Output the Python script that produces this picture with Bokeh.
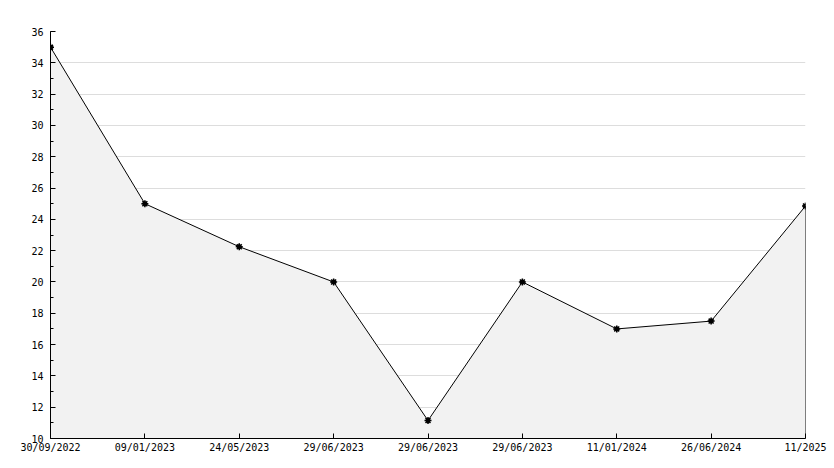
from bokeh.plotting import figure
from bokeh.models import Range1d, FixedTicker, SingleIntervalTicker
from bokeh.embed import file_html
from bokeh.resources import INLINE

dates = ["30/09/2022", "09/01/2023", "24/05/2023", "29/06/2023", "29/06/2023",
         "29/06/2023", "11/01/2024", "26/06/2024", "11/2025"]
values = [35.0, 25.0, 22.25, 20.0, 11.15, 20.0, 17.0, 17.5, 24.85]
y_min, y_max = 10, 36

xs = list(range(len(dates)))

p = figure(width=830, height=460, output_backend="svg", toolbar_location=None,
           x_range=Range1d(0, len(dates) - 1), y_range=Range1d(y_min, y_max),
           min_border_left=50, min_border_right=25, min_border_top=31, min_border_bottom=22)
p.outline_line_color = None
p.background_fill_color = "white"
p.border_fill_color = "white"

# area under the line, outlined in black
p.patch(xs + [xs[-1], xs[0]], values + [y_min, y_min],
        fill_color="#f2f2f2", line_color="black", line_width=1)
p.scatter(xs, values, marker="circle", size=4, color="black")
p.scatter(xs, values, marker="asterisk", size=7, line_color="black", line_width=1.5)

font = "DejaVu Sans Mono"
p.xgrid.grid_line_color = None
p.ygrid.grid_line_color = "#dddddd"
p.ygrid.grid_line_width = 1

p.xaxis.ticker = FixedTicker(ticks=xs)
p.xaxis.major_label_overrides = {i: d for i, d in enumerate(dates)}
p.xaxis.major_tick_in = 5
p.xaxis.major_tick_out = 0
p.xaxis.minor_tick_line_color = None
p.xaxis.major_label_standoff = 3

p.yaxis.ticker = SingleIntervalTicker(interval=2, num_minor_ticks=2)
p.yaxis.major_tick_in = 5
p.yaxis.major_tick_out = 0
p.yaxis.minor_tick_in = 3
p.yaxis.minor_tick_out = 0
p.yaxis.major_label_standoff = 7

for ax in (p.xaxis, p.yaxis):
    ax.axis_line_color = "black"
    ax.major_tick_line_color = "black"
    ax.major_label_text_font = font
    ax.major_label_text_font_size = "10px"
    ax.major_label_text_color = "black"

open("out.html", "w").write(file_html(p, INLINE))
